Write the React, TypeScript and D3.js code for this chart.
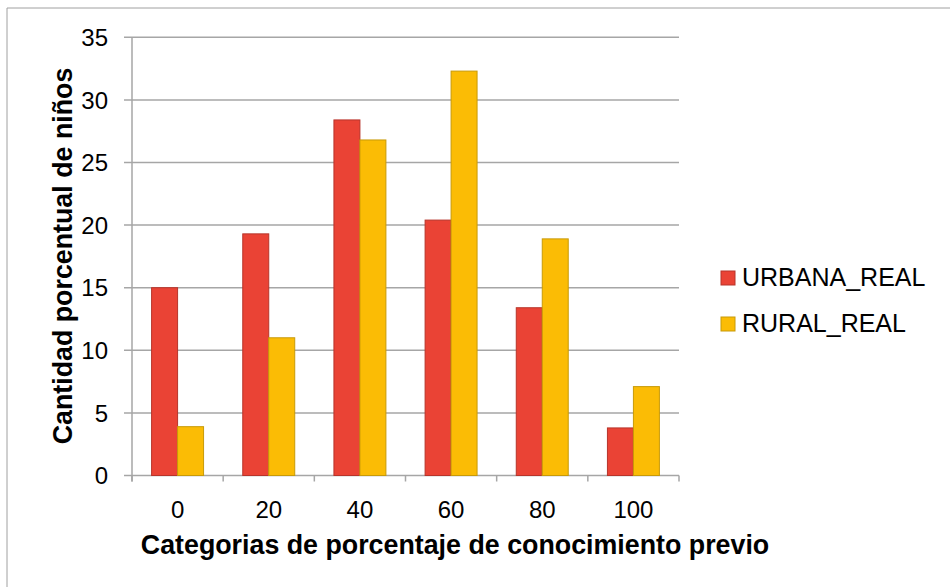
import React from "react";
import * as d3 from "d3";

const categories = ["0", "20", "40", "60", "80", "100"];
const seriesNames = ["URBANA_REAL", "RURAL_REAL"];
const urbana = [15.0, 19.3, 28.4, 20.4, 13.4, 3.8];
const rural = [3.9, 11.0, 26.8, 32.3, 18.9, 7.1];
const yTicks = [0, 5, 10, 15, 20, 25, 30, 35];

const fills = ["#EA4335", "#FBBC05"];
const strokes = ["#B7342A", "#C89A08"];

export default function App() {
  const W = 950, H = 587;
  const left = 132, right = 679, top = 37.3, bottom = 475.5;
  const x = d3.scaleBand<string>().domain(categories).range([left, right]).paddingInner(0.43).paddingOuter(0.215);
  const x1 = d3.scaleBand<number>().domain([0, 1]).range([0, x.bandwidth()]);
  const y = d3.scaleLinear().domain([0, 35]).range([bottom, top]);
  const series = [urbana, rural];
  const font = "Liberation Sans, Arial, sans-serif";
  const step = (right - left) / categories.length;

  return (
    <svg width={W} height={H} style={{ position: "absolute", left: 0, top: 0 }}>
      <rect x={0} y={0} width={W} height={H} fill="#fff" />
      <line x1={7} y1={8} x2={W + 5} y2={8} stroke="#A0A0A0" strokeWidth={1} />
      <line x1={7} y1={8} x2={7} y2={H + 5} stroke="#A0A0A0" strokeWidth={1} />
      {yTicks.map((t) => (
        <g key={t}>
          <line x1={124} x2={right} y1={y(t)} y2={y(t)} stroke="#A6A6A6" strokeWidth={1.5} />
          <text x={108} y={y(t)} dy="0.36em" textAnchor="end" fontFamily={font} fontSize={24} fill="#000">{t}</text>
        </g>
      ))}
      <line x1={left} x2={left} y1={top} y2={bottom + 6} stroke="#A6A6A6" strokeWidth={1.5} />
      {d3.range(categories.length + 1).map((i) => (
        <line key={i} x1={left + i * step} x2={left + i * step} y1={bottom} y2={bottom + 6} stroke="#A6A6A6" strokeWidth={1.5} />
      ))}
      {categories.map((c, i) => (
        <g key={c}>
          {series.map((s, j) => (
            <rect key={j} x={(x(c) as number) + (x1(j) as number)} y={y(s[i])} width={x1.bandwidth()} height={bottom - y(s[i])}
              fill={fills[j]} stroke={strokes[j]} strokeWidth={1} />
          ))}
          <text x={(x(c) as number) + x.bandwidth() / 2} y={518} textAnchor="middle" fontFamily={font} fontSize={24} fill="#000">{c}</text>
        </g>
      ))}
      <text x={455} y={554} textAnchor="middle" fontFamily={font} fontSize={26.8} fontWeight="bold" fill="#000">Categorias de porcentaje de conocimiento previo</text>
      <text transform={`translate(72,256) rotate(-90)`} textAnchor="middle" fontFamily={font} fontSize={26.8} fontWeight="bold" fill="#000">Cantidad porcentual de niños</text>
      {seriesNames.map((n, j) => (
        <g key={n}>
          <rect x={721} y={271 + j * 46} width={14} height={14} fill={fills[j]} stroke={strokes[j]} strokeWidth={1} />
          <text x={742} y={286 + j * 46} fontFamily={font} fontSize={25} fill="#000">{n}</text>
        </g>
      ))}
    </svg>
  );
}
